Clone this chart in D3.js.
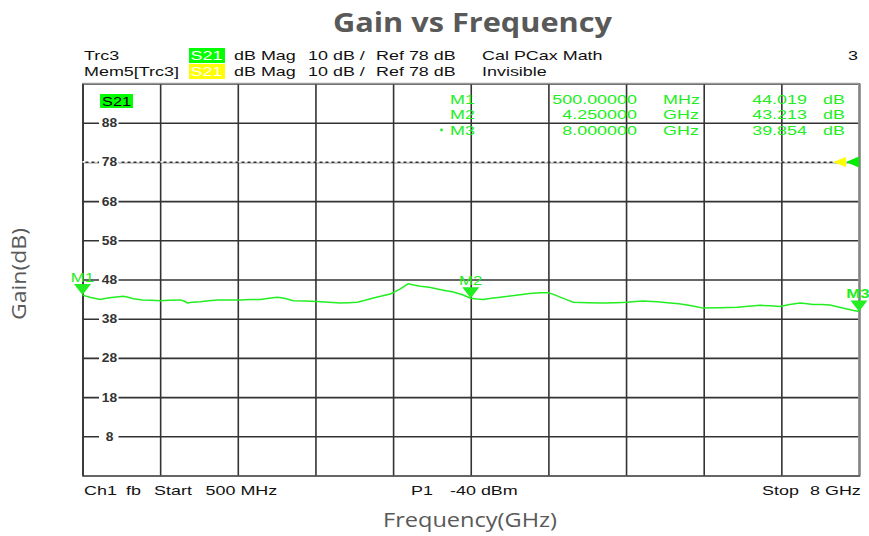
<!DOCTYPE html>
<html><head><meta charset="utf-8">
<script src="https://cdn.jsdelivr.net/npm/d3@7"></script>
<style>body{margin:0;background:#fff}svg{display:block}</style>
</head><body>
<svg id="c" width="869" height="536"></svg>
<script>
// ---- data ----
const freqGHz = [0.5,0.58,0.674,0.703,0.78,0.85,0.896,0.95,0.992,1.08,1.16,1.253,1.33,1.446,1.48,1.514,1.56,1.639,1.72,1.803,1.9,2.025,2.12,2.218,2.3,2.382,2.45,2.537,2.65,2.768,2.88,2.99,3.07,3.154,3.23,3.309,3.39,3.473,3.52,3.57,3.61,3.647,3.7,3.763,3.85,3.927,4.0,4.081,4.17,4.25,4.31,4.371,4.45,4.535,4.63,4.728,4.82,4.921,4.998,5.05,5.114,5.18,5.24,5.38,5.529,5.65,5.761,5.84,5.915,6.05,6.176,6.26,6.34,6.42,6.494,6.66,6.823,6.93,7.045,7.14,7.238,7.33,7.431,7.5,7.556,7.64,7.72,7.8,7.884,7.95,8.0];
const gainDB  = [44.02,43.4,42.9,43.1,43.4,43.6,43.7,43.4,43.1,42.8,42.7,42.6,42.7,42.8,42.5,42.0,42.2,42.3,42.6,42.8,42.8,42.8,42.9,42.9,43.2,43.5,43.2,42.6,42.5,42.4,42.2,42.0,42.1,42.2,42.7,43.3,43.8,44.3,44.9,45.6,46.3,46.9,46.6,46.3,46.0,45.6,45.2,44.8,44.1,43.21,43.0,42.9,43.2,43.5,43.8,44.1,44.4,44.6,44.6,44.2,43.5,42.8,42.2,42.1,42.0,42.1,42.2,42.4,42.5,42.3,42.0,41.8,41.5,41.1,40.7,40.8,40.9,41.2,41.4,41.3,41.1,41.6,42.0,41.8,41.6,41.6,41.5,41.0,40.5,40.1,39.854];
const yTicks = [88,78,68,58,48,38,28,18,8];
const xGrid = [0.5,1.25,2.0,2.75,3.5,4.25,5.0,5.75,6.5,7.25,8.0];
const markerNames = ["M1","M2","M3"];
const markerFreq = [0.5,4.25,8.0];
const markerGain = [44.019,43.213,39.854];
const markerFreqText = ["500.00000","4.250000","8.000000"];
const markerUnit = ["MHz","GHz","GHz"];
const refLevel = 78;

// ---- layout ----
const svg = d3.select("#c");
const L = 82.5, R = 859, T = 83.5, B = 475.5;
const x = d3.scaleLinear().domain([0.5, 8]).range([L, R]);
const y = d3.scaleLinear().domain([-2, 98]).range([B, T]);
const GREEN = "#22ee22";
const SANS = "'Liberation Sans', Arial, sans-serif";
const SX = 1.38; // horizontal stretch of the instrument screenshot text

function st(g, px, py, str, opts={}) {
  const t = g.append("text").attr("transform",`translate(${px},${py}) scale(${opts.sx||SX},1)`)
    .attr("text-anchor", opts.anchor||"start").text(str);
  if (opts.fill) t.attr("fill", opts.fill);
  if (opts.weight) t.attr("font-weight", opts.weight);
  return t;
}

// title & axis titles
svg.append("text").attr("x", 472.5).attr("y", 32).attr("text-anchor","middle")
  .attr("font-family","'Open Sans', Lato, sans-serif").attr("font-weight","bold")
  .attr("font-size", 26).attr("fill","#595959")
  .attr("textLength",279).attr("lengthAdjust","spacingAndGlyphs").text("Gain vs Frequency");
svg.append("text").attr("transform","translate(26,274) rotate(-90)").attr("text-anchor","middle")
  .attr("font-family","'Open Sans', Lato, sans-serif").attr("font-size",20).attr("fill","#595959")
  .attr("textLength",92).attr("lengthAdjust","spacingAndGlyphs").text("Gain(dB)");
svg.append("text").attr("x", 470).attr("y", 527).attr("text-anchor","middle")
  .attr("font-family","'Open Sans', Lato, sans-serif").attr("font-size",20).attr("fill","#595959")
  .attr("textLength",174).attr("lengthAdjust","spacingAndGlyphs").text("Frequency(GHz)");

// header lines
const hdr = svg.append("g").attr("font-family", SANS).attr("font-size", 13).attr("fill","#111");
hdr.append("rect").attr("x",189).attr("y",48).attr("width",36).attr("height",15).attr("fill","#00ff00");
hdr.append("rect").attr("x",189).attr("y",64).attr("width",36).attr("height",15).attr("fill","#ffff00");
[[84,60,"Trc3"],[84,76,"Mem5[Trc3]"],[234,60,"dB Mag"],[234,76,"dB Mag"],[308,60,"10 dB /"],[308,76,"10 dB /"],
 [376,60,"Ref 78 dB"],[376,76,"Ref 78 dB"],[482,60,"Cal PCax Math"],[482,76,"Invisible"]].forEach(d=>{
  st(hdr, d[0], d[1], d[2]);
});
st(hdr,190.5,60,"S21",{fill:"#fff"});
st(hdr,190.5,76,"S21",{fill:"#fff"});
st(hdr,858,60,"3",{anchor:"end"});

// grid
const grid = svg.append("g");
grid.append("g").attr("transform",`translate(0,${B})`)
  .call(d3.axisBottom(x).tickValues(xGrid).tickSize(-(B-T)).tickFormat(""))
  .call(g=>{g.select(".domain").attr("stroke","#333").attr("stroke-width",1.5);
            g.selectAll(".tick line").attr("stroke","#333").attr("stroke-width",1.6);});
grid.append("g").attr("transform",`translate(${L},0)`)
  .call(d3.axisLeft(y).tickValues(yTicks.concat([98])).tickSize(-(R-L)).tickFormat(""))
  .call(g=>{g.select(".domain").remove();
            g.selectAll(".tick line").attr("stroke","#333").attr("stroke-width",1.6);});
svg.append("line").attr("x1",R).attr("x2",R).attr("y1",T).attr("y2",B).attr("stroke","#999").attr("stroke-width",1.6);
svg.append("line").attr("x1",L).attr("x2",R).attr("y1",T).attr("y2",T).attr("stroke","#999").attr("stroke-width",1.6);

// ref line dashed at 78
svg.append("line").attr("x1",L).attr("x2",R).attr("y1",y(refLevel)).attr("y2",y(refLevel))
  .attr("stroke","#fff").attr("stroke-width",1.6).attr("stroke-dasharray","3,3");

// y tick labels with gaps
const yl = svg.append("g").attr("font-family",SANS).attr("font-size",12).attr("font-weight","bold").attr("fill","#333");
yTicks.forEach(v=>{
  yl.append("rect").attr("x",99).attr("y",y(v)-6).attr("width",19.5).attr("height",12).attr("fill","#fff");
  st(yl,109.5,y(v)+4.5,String(v),{anchor:"middle",sx:1.15});
});

// S21 label in plot
svg.append("rect").attr("x",100).attr("y",94).attr("width",33).attr("height",14).attr("fill","#00ff00");
st(svg.append("g").attr("font-family",SANS).attr("font-size",13).attr("fill","#000"),116.5,106,"S21",{anchor:"middle",sx:1.25});

// marker table
const mt = svg.append("g").attr("font-family",SANS).attr("font-size",13).attr("fill",GREEN);
markerNames.forEach((m,i)=>{
  const by = 103.5 + i*15.5;
  st(mt,450,by,m);
  st(mt,637,by,markerFreqText[i],{anchor:"end"});
  st(mt,663,by,markerUnit[i]);
  st(mt,807,by,markerGain[i].toFixed(3),{anchor:"end"});
  st(mt,823,by,"dB");
});
mt.append("circle").attr("cx",441.5).attr("cy",130).attr("r",1.4).attr("fill",GREEN);

// trace
const line = d3.line().x((d,i)=>x(freqGHz[i])).y((d,i)=>y(gainDB[i]));
svg.append("path").datum(gainDB).attr("d",line).attr("fill","none").attr("stroke",GREEN).attr("stroke-width",1.5);

// markers
const mk = svg.append("g").attr("font-family",SANS).attr("font-size",13).attr("fill",GREEN);
markerNames.forEach((m,i)=>{
  const px = x(markerFreq[i]), py = y(markerGain[i]);
  mk.append("path").attr("d",`M${px},${py} L${px-8.5},${py-11} L${px+8.5},${py-11} Z`);
  st(mk, px + (i===2?-1:0), py-13, m, {anchor:"middle", weight: i===2?"bold":null, sx:1.3});
});

// ref arrows
const ry = y(refLevel);
svg.append("path").attr("d",`M${R-26},${ry} L${R-13},${ry-5} L${R-13},${ry+5} Z`).attr("fill","#ffff00");
svg.append("path").attr("d",`M${R-13},${ry} L${R},${ry-5.5} L${R},${ry+5.5} Z`).attr("fill","#00ee00");

// footer
const ft = svg.append("g").attr("font-family",SANS).attr("font-size",13).attr("fill","#111");
[[84,"Ch1"],[126,"fb"],[154,"Start"],[205.5,"500 MHz"],[411,"P1"],[450,"-40 dBm"],[762,"Stop"],[810,"8 GHz"]].forEach(d=>{
  st(ft,d[0],495,d[1]);
});
</script>
</body></html>
